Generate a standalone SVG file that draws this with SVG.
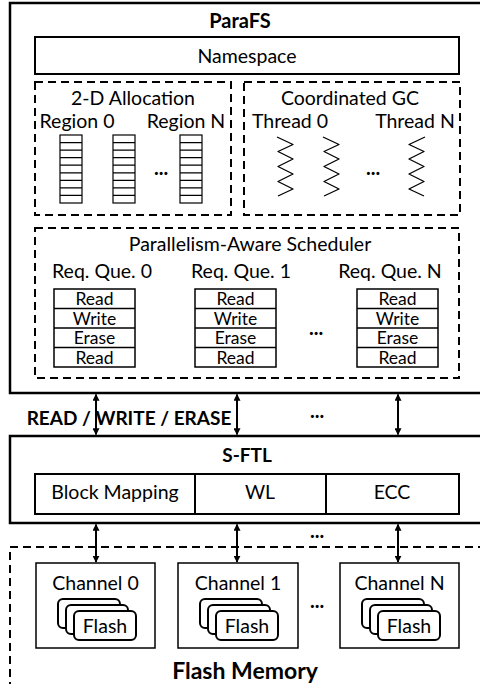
<svg xmlns="http://www.w3.org/2000/svg" width="480" height="684" viewBox="0 0 480 684">
<defs>
<marker id="ah" viewBox="0 0 10 10" refX="9" refY="5" markerWidth="7" markerHeight="7" markerUnits="userSpaceOnUse" orient="auto-start-reverse">
<path d="M0,0 L10,5 L0,10 z" fill="#000"/>
</marker>
<style>
text{font-family:Lato,"Open Sans","Liberation Sans",sans-serif;fill:#000}
.t{font-size:19.5px;text-anchor:middle}
.b{font-size:19px;font-weight:bold;text-anchor:middle}
.s{font-size:17.5px;text-anchor:middle}
.d{font-size:20px;font-weight:bold;text-anchor:middle}
.thick{fill:#fff;stroke:#000;stroke-width:2.5}
.box{fill:#fff;stroke:#000;stroke-width:2}
.thin{fill:#fff;stroke:#000;stroke-width:1.5}
.dash{fill:none;stroke:#000;stroke-width:2;stroke-dasharray:8,5}
.cell{fill:#fff;stroke:#000;stroke-width:1.2}
.wig{fill:none;stroke:#000;stroke-width:1.3;stroke-linejoin:round}
.flash{fill:#fff;stroke:#000;stroke-width:2}
.conn{stroke:#000;stroke-width:2;fill:none;marker-start:url(#ah);marker-end:url(#ah)}
</style>
</defs>

<g id="parafs">
<rect class="thick" x="10" y="3" width="475" height="390"/>
<text class="b" x="240" y="28" style="font-size:20px">ParaFS</text>
</g>

<g id="namespace">
<rect class="box" x="35" y="37" width="424" height="37"/>
<text class="t" x="247" y="63">Namespace</text>
</g>

<g id="allocation">
<rect class="dash" x="35" y="82" width="196" height="133"/>
<text class="t" x="133" y="105">2-D Allocation</text>
<text class="t" x="77" y="128">Region 0</text>
<text class="t" x="186" y="128">Region N</text>
<g class="cell">
<rect x="60" y="135" width="22" height="68"/>
<rect x="113" y="135" width="22" height="68"/>
<rect x="180" y="135" width="22" height="68"/>
</g>
<path stroke="#000" stroke-width="1.2" d="M60,142.6H82M60,150.1H82M60,157.7H82M60,165.2H82M60,172.8H82M60,180.3H82M60,187.9H82M60,195.4H82
M113,142.6H135M113,150.1H135M113,157.7H135M113,165.2H135M113,172.8H135M113,180.3H135M113,187.9H135M113,195.4H135
M180,142.6H202M180,150.1H202M180,157.7H202M180,165.2H202M180,172.8H202M180,180.3H202M180,187.9H202M180,195.4H202"/>
<text class="d" x="161" y="175">...</text>
</g>

<g id="gc">
<rect class="dash" x="244" y="82" width="216" height="133"/>
<text class="t" x="350" y="105">Coordinated GC</text>
<text class="t" x="290" y="128">Thread 0</text>
<text class="t" x="415" y="128">Thread N</text>
<path class="wig" d="M277,137 L293,144.5 L278,151.5 L293,159 L278,166.5 L293,174 L278,181.5 L293,189 L278,196"/>
<path class="wig" d="M323,137 L339,144.5 L324,151.5 L339,159 L324,166.5 L339,174 L324,181.5 L339,189 L324,196"/>
<path class="wig" d="M425,137 L409,144.5 L424,151.5 L409,159 L424,166.5 L409,174 L424,181.5 L409,189 L424,196"/>
<text class="d" x="373" y="175">...</text>
</g>

<g id="scheduler">
<rect class="dash" x="35" y="228" width="424" height="150"/>
<text class="t" x="250" y="251">Parallelism-Aware Scheduler</text>
<text class="t" x="102" y="278">Req. Que. 0</text>
<text class="t" x="241" y="278">Req. Que. 1</text>
<text class="t" x="390" y="278">Req. Que. N</text>
<g class="thin">
<rect x="54" y="289" width="81" height="78"/>
<rect x="195" y="289" width="81" height="78"/>
<rect x="357" y="289" width="81" height="78"/>
</g>
<path stroke="#000" stroke-width="1.5" d="M54,308.5H135M54,328H135M54,347.5H135M195,308.5H276M195,328H276M195,347.5H276M357,308.5H438M357,328H438M357,347.5H438"/>
<g class="s">
<text x="94.5" y="305">Read</text><text x="94.5" y="324.5">Write</text><text x="94.5" y="344">Erase</text><text x="94.5" y="363.5">Read</text>
<text x="235.5" y="305">Read</text><text x="235.5" y="324.5">Write</text><text x="235.5" y="344">Erase</text><text x="235.5" y="363.5">Read</text>
<text x="397.5" y="305">Read</text><text x="397.5" y="324.5">Write</text><text x="397.5" y="344">Erase</text><text x="397.5" y="363.5">Read</text>
</g>
<text class="d" x="316" y="335">...</text>
</g>

<g id="sftl">
<rect class="thick" x="10" y="436" width="475" height="87"/>
<text class="b" x="247" y="462">S-FTL</text>
<rect class="box" x="35" y="474" width="424" height="40"/>
<path stroke="#000" stroke-width="2" d="M195,474V514M326,474V514"/>
<text class="t" x="115" y="499">Block Mapping</text>
<text class="t" x="260" y="499">WL</text>
<text class="t" x="392" y="499">ECC</text>
</g>

<g id="flashmem">
<path class="dash" d="M10,690V547H485"/>
<text class="b" x="245" y="679" style="font-size:23px">Flash Memory</text>
<text class="d" x="317" y="608">...</text>
</g>

<g id="channel0">
<rect class="thin" x="36" y="563" width="119" height="85"/>
<text class="t" x="95.5" y="590">Channel 0</text>
<rect class="flash" x="58" y="599" width="62" height="29" rx="5"/>
<rect class="flash" x="66" y="605" width="62" height="29" rx="5"/>
<rect class="flash" x="74" y="611" width="62" height="29" rx="5"/>
<text class="t" x="105" y="633">Flash</text>
</g>
<g id="channel1">
<rect class="thin" x="178" y="563" width="120" height="85"/>
<text class="t" x="238" y="590">Channel 1</text>
<rect class="flash" x="200" y="599" width="62" height="29" rx="5"/>
<rect class="flash" x="208" y="605" width="62" height="29" rx="5"/>
<rect class="flash" x="216" y="611" width="62" height="29" rx="5"/>
<text class="t" x="247" y="633">Flash</text>
</g>
<g id="channelN">
<rect class="thin" x="340" y="563" width="119" height="85"/>
<text class="t" x="399.5" y="590">Channel N</text>
<rect class="flash" x="362" y="599" width="62" height="29" rx="5"/>
<rect class="flash" x="370" y="605" width="62" height="29" rx="5"/>
<rect class="flash" x="378" y="611" width="62" height="29" rx="5"/>
<text class="t" x="409" y="633">Flash</text>
</g>

<g id="connectors">
<line class="conn" x1="96" y1="394.5" x2="96" y2="434.5"/>
<line class="conn" x1="237" y1="394.5" x2="237" y2="434.5"/>
<line class="conn" x1="398" y1="394.5" x2="398" y2="434.5"/>
<line class="conn" x1="96" y1="524.5" x2="96" y2="562"/>
<line class="conn" x1="237" y1="524.5" x2="237" y2="562"/>
<line class="conn" x1="398" y1="524.5" x2="398" y2="562"/>
<text class="b" x="129" y="425">READ / WRITE / ERASE</text>
<text class="d" x="317" y="418">...</text>
<text class="d" x="317" y="538">...</text>
</g>
</svg>
